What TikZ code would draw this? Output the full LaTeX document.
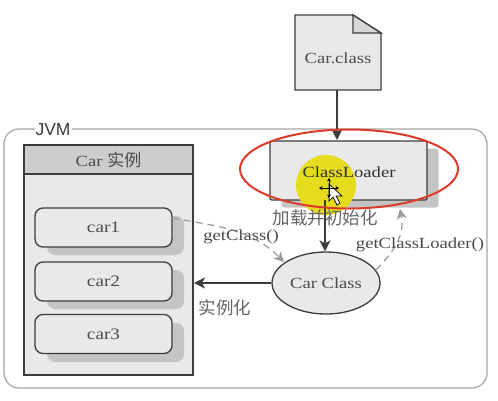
\documentclass[tikz,border=0pt]{standalone}
\usepackage{fontspec}
\setmainfont{Liberation Serif}
\newfontfamily\widef[FakeStretch=1.2]{Liberation Serif}
\newfontfamily\cjk{Noto Sans CJK SC}
\newfontfamily\sansf{Liberation Sans}
\usetikzlibrary{arrows.meta,shapes.geometric}
\definecolor{boxfill}{HTML}{E9E9E9}
\definecolor{headfill}{HTML}{CDCDCD}
\definecolor{shadowgray}{HTML}{C4C4C4}
\definecolor{ink}{HTML}{3C3C3C}
\definecolor{txt}{HTML}{4A4A4A}
\definecolor{dashgray}{HTML}{9A9A9A}
\definecolor{redring}{HTML}{DD3B2A}
\definecolor{hilite}{HTML}{E6DC1E}
\tikzset{
  lbl/.style={text=txt,font=\fontsize{15.5}{17}\widef\selectfont,inner sep=0pt},
  cjklbl/.style={text=txt!85,font=\fontsize{17.5}{19}\cjk\selectfont,inner sep=0pt},
  carbox/.style={draw=ink,line width=1.3pt,fill=boxfill,rounded corners=8pt,minimum width=137pt,minimum height=39pt,inner sep=0pt,text=txt,font=\fontsize{16}{18}\widef\selectfont},
  carshadow/.style={fill=shadowgray,rounded corners=8pt,minimum width=137pt,minimum height=39pt,inner sep=0pt},
  solidarrow/.style={draw=ink,line width=1.5pt,-{Stealth[length=11pt,width=11pt,inset=3pt]}},
  dasharrow/.style={draw=dashgray,line width=1.2pt,dash pattern=on 7pt off 5pt,-{Stealth[length=10pt,width=10pt,inset=3pt]}}
}
\begin{document}
\begin{tikzpicture}[x=1pt,y=-1pt]
\useasboundingbox (0,0) rectangle (498,400);
\fill[white] (0,0) rectangle (498,400);
% JVM frame
\draw[draw=gray!70,line width=1.2pt,rounded corners=15pt] (4,129) rectangle (487,388);
\node[fill=white,inner sep=1pt,text=ink,font=\fontsize{17.5}{19}\sansf\selectfont] (jvm) at (53,130) {JVM};
% Car instances
\node[draw=ink,line width=1.2pt,fill=boxfill,minimum width=169pt,minimum height=230pt,inner sep=0pt] (inst) at (108.5,260) {};
\node[draw=ink,line width=1.2pt,fill=headfill,minimum width=169pt,minimum height=29pt,inner sep=0pt,text=txt,font=\fontsize{15.5}{17}\widef\selectfont] (head) at (108.5,159.5) {Car {\fontsize{17}{19}\cjk\selectfont 实例}};
\node[carshadow] (s1) at (115.5,235.5) {};
\node[carshadow] (s2) at (115.5,289.5) {};
\node[carshadow] (s3) at (115.5,342.5) {};
\node[carbox] (car1) at (103.5,227.5) {car1};
\node[carbox] (car2) at (103.5,281.5) {car2};
\node[carbox] (car3) at (103.5,334) {car3};
% ClassLoader
\node[fill=shadowgray,minimum width=157pt,minimum height=59pt,rounded corners=3pt] (clshadow) at (360,178) {};
\node[draw=ink,line width=1.3pt,fill=boxfill,minimum width=157pt,minimum height=59pt,inner sep=0pt,rounded corners=2pt] (cl) at (348.5,170.5) {};
\fill[hilite] (326,185) circle[radius=30pt];
\node[lbl,text=ink!80!black] (cltext) at (349,172) {ClassLoader};
% Car.class document
\draw[ink,line width=1.3pt,fill=boxfill] (295,15) -- (353,15) -- (381,33) -- (381,90) -- (295,90) -- cycle;
\draw[ink,line width=1.3pt,fill=headfill!60!boxfill] (353,15) -- (353,33) -- (381,33) -- cycle;
\coordinate (docb) at (337,90);
\coordinate (clt) at (337,140);
\node[lbl] (doc) at (338,58) {Car.class};
\draw[solidarrow] (docb) -- (clt);
% Car Class
\node[draw=ink,line width=1.3pt,fill=boxfill,ellipse,minimum width=108pt,minimum height=62pt,inner sep=0pt,text=txt,font=\fontsize{15.5}{17}\widef\selectfont] (cc) at (326,283) {Car Class};
\coordinate (clb) at (325,200);
\draw[solidarrow] (clb) -- (cc.north -| clb);
\coordinate (instr) at (194,283);
\draw[solidarrow] (cc.west) -- (instr);
\coordinate (c1r) at (172,218);
\coordinate (ccnw) at (284,262);
\draw[dasharrow] (c1r) .. controls (215,226) and (250,228) .. (ccnw);
\coordinate (ccne) at (376,270);
\coordinate (clbr) at (400,209);
\draw[dasharrow] (ccne) .. controls (395,250) and (405,235) .. (clbr);
% labels
\node[cjklbl] (jz) at (325,218) {加载并初始化};
\node[lbl] (gc) at (241,237) {getClass()};
\node[lbl] (gcl) at (420,245) {getClassLoader()};
\node[cjklbl] (sl) at (225,308) {实例化};
% red ring
\node[draw=redring,line width=2pt,ellipse,minimum width=218pt,minimum height=79pt,inner sep=0pt] (ring) at (349,169) {};
% cursor
\draw[black,fill=white,line width=.7pt] (329,184) -- (329,201) -- (333,197) -- (337,205) -- (340,203) -- (336,196) -- (342,196) -- cycle;
\draw[black,line width=1pt,<->,>={Stealth[length=3.5pt,width=4pt]}] (319,188) -- (339,188);
\draw[black,line width=1pt,<->,>={Stealth[length=3.5pt,width=4pt]}] (329,178) -- (329,198);
\end{tikzpicture}
\end{document}
